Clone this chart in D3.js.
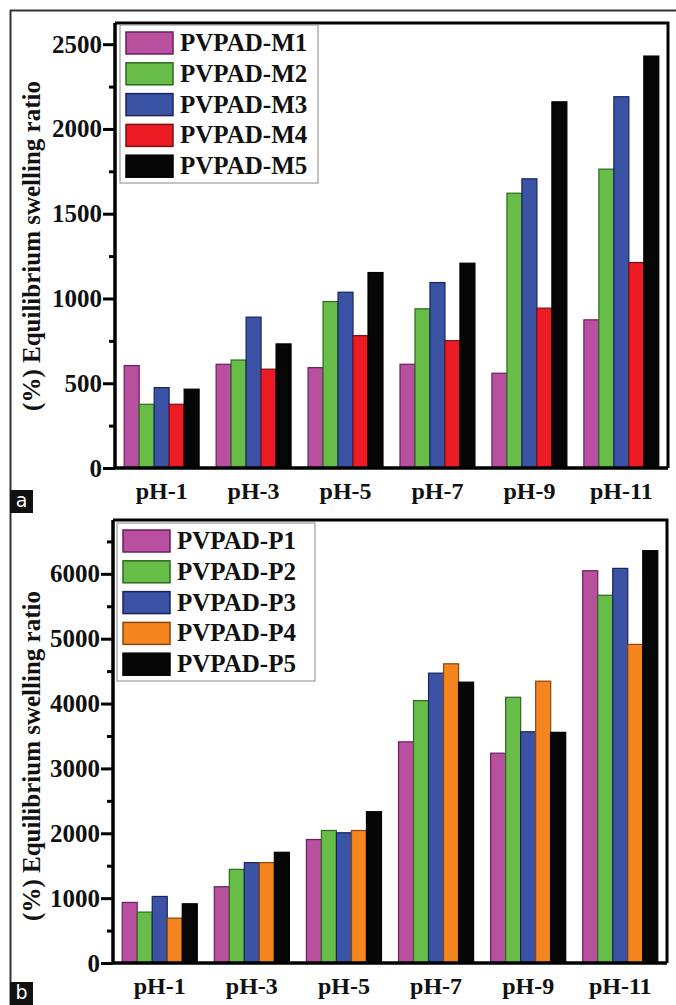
<!DOCTYPE html>
<html>
<head>
<meta charset="utf-8">
<script src="https://cdn.jsdelivr.net/npm/d3@7"></script>
<style>
  body { margin: 0; background: #fff; }
  svg { display: block; }
  text { font-family: "Liberation Serif", "Times New Roman", serif; font-weight: bold; fill: #111; }
</style>
</head>
<body>
<svg id="fig" width="676" height="1005"></svg>
<script>
// pH categories shared by both panels
let phLabels = ["pH-1", "pH-3", "pH-5", "pH-7", "pH-9", "pH-11"];

// panel a : PVPAD-M series
let seriesA = ["PVPAD-M1", "PVPAD-M2", "PVPAD-M3", "PVPAD-M4", "PVPAD-M5"];
let valuesM1 = [604, 612, 592, 612, 559, 874];
let valuesM2 = [376, 637, 982, 939, 1621, 1763];
let valuesM3 = [474, 890, 1037, 1094, 1706, 2190];
let valuesM4 = [376, 583, 781, 751, 943, 1212];
let valuesM5 = [465, 732, 1153, 1208, 2160, 2430];
let ticksA = [0, 500, 1000, 1500, 2000, 2500];

// panel b : PVPAD-P series
let seriesB = ["PVPAD-P1", "PVPAD-P2", "PVPAD-P3", "PVPAD-P4", "PVPAD-P5"];
let valuesP1 = [934, 1176, 1904, 3410, 3235, 6048];
let valuesP2 = [785, 1444, 2043, 4045, 4097, 5670];
let valuesP3 = [1026, 1548, 2008, 4469, 3565, 6084];
let valuesP4 = [692, 1548, 2043, 4613, 4345, 4912];
let valuesP5 = [913, 1707, 2333, 4330, 3556, 6357];
let ticksB = [0, 1000, 2000, 3000, 4000, 5000, 6000];

let fillsA = ["#b94f9f", "#67bd47", "#3b53a4", "#ec1c24", "#060606"];
let strokesA = ["#6a1f5e", "#2d6a1f", "#1a2260", "#7a1010", "#000"];
let fillsB = ["#b94f9f", "#67bd47", "#3b53a4", "#f5851f", "#060606"];
let strokesB = ["#6a1f5e", "#2d6a1f", "#1a2260", "#8a4510", "#000"];

let serif = "'Liberation Serif', 'Times New Roman', serif";

let svg = d3.select("#fig");

// outer figure frame (top + left only, the rest is cropped)
svg.append("line").attr("x1", 10).attr("x2", 676).attr("y1", 10.5).attr("y2", 10.5)
    .attr("stroke", "#333").attr("stroke-width", 2);
svg.append("line").attr("x1", 10.5).attr("x2", 10.5).attr("y1", 10).attr("y2", 1005)
    .attr("stroke", "#333").attr("stroke-width", 2);

function drawPanel(opt) {
    let g = svg.append("g");

    let x = d3.scaleBand()
        .domain(phLabels)
        .range([opt.left, opt.right])
        .paddingInner(0.185)
        .paddingOuter(0.1);

    let xSub = d3.scaleBand()
        .domain(opt.series)
        .range([0, x.bandwidth()]);

    let y = d3.scaleLinear()
        .domain([0, opt.yMax])
        .range([opt.bottom, opt.top]);

    let color = d3.scaleOrdinal().domain(opt.series).range(opt.fills);
    let stroke = d3.scaleOrdinal().domain(opt.series).range(opt.strokes);

    // bars
    let rows = phLabels.map(function(p, i) {
        return opt.series.map(function(s, j) {
            return {ph: p, series: s, value: opt.values[j][i]};
        });
    });

    g.selectAll("g.grp")
        .data(rows)
        .join("g")
        .attr("class", "grp")
        .attr("transform", function(d, i) { return "translate(" + x(phLabels[i]) + ",0)"; })
        .selectAll("rect")
        .data(function(d) { return d; })
        .join("rect")
        .attr("x", function(d) { return xSub(d.series); })
        .attr("width", xSub.bandwidth())
        .attr("y", function(d) { return y(d.value); })
        .attr("height", function(d) { return opt.bottom - y(d.value); })
        .style("fill", function(d) { return color(d.series); })
        .style("stroke", function(d) { return stroke(d.series); })
        .style("stroke-width", 1.2);

    // frame top/right
    g.append("path")
        .attr("d", "M" + opt.left + "," + opt.top + "H" + opt.right + "V" + opt.bottom)
        .attr("fill", "none").attr("stroke", "#000").attr("stroke-width", 3);

    // minor ticks
    let minor = [];
    for (let k = 0; k < opt.ticks.length; k++) minor.push(opt.ticks[k] + opt.step / 2);
    g.append("g")
        .attr("transform", "translate(" + opt.left + ",0)")
        .call(d3.axisLeft(y).tickValues(minor.filter(function(v) { return v < opt.yMax; }))
            .tickSize(6).tickFormat(""))
        .call(function(a) { a.select(".domain").remove(); })
        .selectAll("line").attr("stroke", "#000").attr("stroke-width", 3);

    // major ticks and labels
    let yAxis = g.append("g")
        .attr("transform", "translate(" + opt.left + ",0)")
        .call(d3.axisLeft(y).tickValues(opt.ticks).tickSize(12).tickPadding(1).tickFormat(d3.format("d")));
    yAxis.select(".domain").remove();
    yAxis.selectAll("line").attr("stroke", "#000").attr("stroke-width", 3);
    yAxis.selectAll("text")
        .style("font-family", serif)
        .style("font-weight", "bold").style("font-size", "25px").style("fill", "#111");

    // x axis labels
    let xAxis = g.append("g")
        .attr("transform", "translate(0," + opt.bottom + ")")
        .call(d3.axisBottom(x).tickSize(0).tickPadding(14));
    xAxis.select(".domain").remove();
    xAxis.selectAll("text")
        .style("font-family", serif)
        .style("font-weight", "bold").style("font-size", "24px").style("fill", "#111");

    // left + bottom axis lines
    g.append("path")
        .attr("d", "M" + opt.left + "," + opt.top + "V" + opt.bottom + "H" + opt.right)
        .attr("fill", "none").attr("stroke", "#000").attr("stroke-width", 3.5);

    // y title
    g.append("text")
        .attr("transform", "translate(40," + opt.titleY + ") rotate(-90)")
        .attr("text-anchor", "middle")
        .style("font-family", serif)
        .style("font-weight", "bold")
        .style("font-size", "25px")
        .style("fill", "#111")
        .text("(%) Equilibrium swelling ratio");

    // legend
    let lg = g.append("g").attr("transform", "translate(" + opt.legX + "," + opt.legY + ")");
    lg.append("rect")
        .attr("x", 0).attr("y", 0).attr("width", 198).attr("height", 158)
        .attr("fill", "#fff").attr("stroke", "#888").attr("stroke-width", 1);
    let items = lg.selectAll("g.item")
        .data(opt.series)
        .join("g")
        .attr("class", "item")
        .attr("transform", function(d, i) { return "translate(0," + (7 + i * 30.8) + ")"; });
    items.append("rect")
        .attr("x", 6).attr("y", 0).attr("width", 47).attr("height", 22)
        .style("fill", function(d) { return color(d); })
        .style("stroke", function(d) { return stroke(d); })
        .style("stroke-width", 1.5);
    items.append("text")
        .attr("x", 60).attr("y", 19)
        .style("font-family", serif)
        .style("font-weight", "bold")
        .style("font-size", "25px")
        .style("fill", "#111")
        .text(function(d) { return d; });

    // panel letter
    svg.append("rect").attr("x", 10).attr("y", opt.letterY).attr("width", 23).attr("height", 23).attr("fill", "#111");
    svg.append("text").attr("x", 21.5).attr("y", opt.letterY + 17)
        .attr("text-anchor", "middle")
        .style("font-family", "'DejaVu Sans', Arial, sans-serif")
        .style("font-weight", "normal").style("font-size", "19px")
        .style("fill", "#fff")
        .text(opt.letter);
}

drawPanel({
    series: seriesA, values: [valuesM1, valuesM2, valuesM3, valuesM4, valuesM5],
    fills: fillsA, strokes: strokesA, ticks: ticksA, step: 500, yMax: 2625,
    left: 115, right: 668, top: 23, bottom: 468, titleY: 246,
    legX: 120, legY: 25, letter: "a", letterY: 490
});

drawPanel({
    series: seriesB, values: [valuesP1, valuesP2, valuesP3, valuesP4, valuesP5],
    fills: fillsB, strokes: strokesB, ticks: ticksB, step: 1000, yMax: 6830,
    left: 113, right: 667, top: 520, bottom: 963, titleY: 756,
    legX: 117, legY: 523, letter: "b", letterY: 982
});
</script>
</body>
</html>
